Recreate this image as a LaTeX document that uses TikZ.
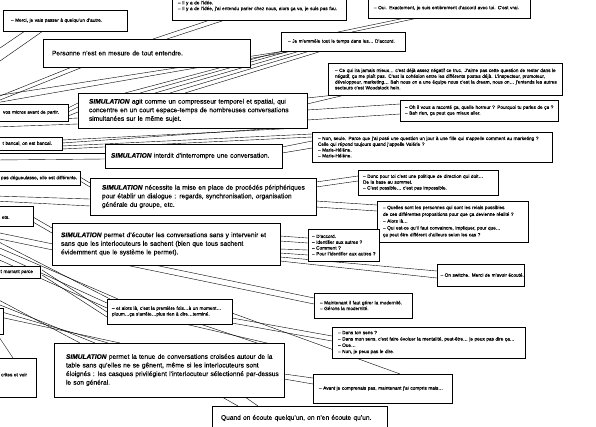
\documentclass[tikz,border=0pt]{standalone}
\usepackage{fontspec}
\setmainfont{Liberation Sans}[FakeBold=0.2]
\usetikzlibrary{calc,shadows}
\pgfdeclarelayer{bg}
\pgfsetlayers{bg,main}
\newcommand\smallfnt{\fontsize{4.7}{5.8}\selectfont}
\newcommand\largefnt{\fontsize{6.6}{8.6}\selectfont}
\newcommand\SIM{\textbf{\textit{SIMULATION}}}
\newcommand\jl[1]{\makebox[\hsize][s]{#1}\\}
\begin{document}
\begin{tikzpicture}[x=1pt,y=-1pt,
  box/.style={draw=black, line width=0.45pt, fill=white,
    general shadow={fill=black!45, shadow xshift=1.2pt, shadow yshift=-1.2pt},
    anchor=north west, inner ysep=0pt, outer sep=0pt},
  sbox/.style={box, font=\smallfnt, align=left},
  rbox/.style={box, font=\smallfnt, align=right},
  lbox/.style={box, font=\largefnt, align=left},
  wire/.style={line width=0.4pt, black}]
\useasboundingbox (0,0) rectangle (596,426);
\begin{pgfonlayer}{bg}
\fill[white] (0,0) rectangle (596,426);
\end{pgfonlayer}

% ---------- boxes ----------
\node[sbox, text width=162pt, inner xsep=6pt, minimum height=28pt] (A) at (172,-8)
  {\mbox{– Il y a de l'idée.}\\\mbox{– Il y a de l'idée, j'ai entendu parler chez nous, alors ça va, je suis pas fou.}};
\node[sbox, text width=150pt, inner xsep=6pt, minimum height=20pt] (B) at (368,-2)
  {\mbox{– Oui. Exactement, je suis entièrement d'accord avec toi. C'est vrai.}};
\node[sbox, text width=108pt, inner xsep=8pt, minimum height=21pt] (C) at (3,10)
  {\mbox{– Merci, je vais passer à quelqu'un d'autre.}};
\node[lbox, text width=189pt, inner xsep=9pt, minimum height=28pt] (D) at (43,39)
  {\mbox{Personne n'est en mesure de tout entendre.}};
\node[sbox, text width=110pt, inner xsep=7pt, minimum height=19pt] (E) at (281,32)
  {\mbox{– Je m'emmêle tout le temps dans les… D'accord.}};
\node[sbox, text width=220pt, inner xsep=7pt, minimum height=32pt] (F) at (328,63)
  {\jl{– Ce qui ira jamais mieux… c'est déjà assez négatif ce truc. J'aime pas cette question de rester dans le}
   \jl{négatif, ça me plaît pas. C'est la cohésion entre les différents postes déjà. L'inspecteur, promoteur,}
   \jl{développeur, marketing… Bah nous on a une équipe nous c'est la dream, nous on… j'entends les autres}
   \mbox{secteurs c'est Woodstock hein.}};
\node[sbox, text width=148pt, inner xsep=5pt, minimum height=21pt] (G) at (400,100)
  {\mbox{– Oh il vous a raconté ça, quelle horreur ? Pourquoi tu parles de ça ?}\\\mbox{– Bah rien, ça peut que mieux aller.}};
\node[rbox, text width=70pt, inner xsep=9pt, minimum height=17pt] (H) at (-20,104)
  {\mbox{vos micros avant de partir.}};
\node[lbox, text width=207pt, inner xsep=11pt, minimum height=35pt] (I) at (78,93)
  {\jl{\SIM{} agit comme un compresseur temporel et spatial, qui}
   \jl{concentre en un court espace-temps de nombreuses conversations}
   \mbox{simultanées sur le même sujet.}};
\node[rbox, text width=62pt, inner xsep=10pt, minimum height=13pt] (J) at (-20,137)
  {\mbox{t bancal, on est bancal.}};
\node[lbox, text width=165pt, inner xsep=6pt, minimum height=24pt] (K) at (105,144)
  {\mbox{\SIM{} interdit d'interrompre une conversation.}};
\node[sbox, text width=228pt, inner xsep=6pt, minimum height=30pt] (L) at (312,132)
  {\mbox{– Non, seule. Parce que j'ai posé une question un jour à une fille qui s'appelle comment au marketing ?}\\
   \mbox{Celle qui répond toujours quand j'appelle Valérie ?}\\\mbox{– Marie-Hélène.}\\\mbox{– Marie-Hélène.}};
\node[sbox, text width=76pt, inner xsep=3pt, minimum height=14pt] (M) at (-2,171)
  {\mbox{pas dégueulasse, elle est différente.}};
\node[lbox, text width=202pt, inner xsep=12pt, minimum height=37pt] (N) at (90,178)
  {\jl{\SIM{} nécessite la mise en place de procédés périphériques}
   \jl{pour établir un dialogue : regards, synchronisation, organisation}
   \mbox{générale du groupe, etc.}};
\node[sbox, text width=130pt, inner xsep=5pt, minimum height=25pt] (O) at (358,170)
  {\mbox{– Donc pour toi c'est une politique de direction qui doit…}\\\mbox{De la base au sommet.}\\\mbox{– C'est possible… c'est pas impossible.}};
\node[sbox, font=\fontsize{4.7}{6.8}\selectfont, text width=139pt, inner xsep=6pt, minimum height=41pt] (P) at (377,201)
  {\mbox{– Quelles sont les personnes qui sont les relais possibles}\\\mbox{de ces différentes propositions pour que ça devienne réalité ?}\\
   \mbox{– Alors là…}\\\mbox{– Qui est-ce qu'il faut convaincre, impliquer, pour que…}\\\mbox{ça peut être différent d'ailleurs selon les cas ?}};
\node[sbox, text width=9pt, inner xsep=22pt, minimum height=20pt] (Q) at (-20,206)
  {\mbox{}\\\mbox{ets.}};
\node[lbox, text width=210pt, inner xsep=9pt, minimum height=42pt] (R) at (52,223)
  {\jl{\SIM{} permet d'écouter les conversations sans y intervenir et}
   \jl{sans que les interlocuteurs le sachent (bien que tous sachent}
   \mbox{évidemment que le système le permet).}};
\node[sbox, text width=63pt, inner xsep=4pt, minimum height=32pt] (S) at (308,229)
  {\mbox{– D'accord.}\\\mbox{– Identifier aux autres ?}\\\mbox{– Comment ?}\\\mbox{– Pour l'identifier aux autres ?}};
\node[rbox, text width=46pt, inner xsep=7pt, minimum height=12pt] (T) at (-20,266)
  {\mbox{t marrant parce}};
\node[sbox, text width=80pt, inner xsep=3.5pt, minimum height=22pt] (U) at (437,264)
  {\mbox{– On switche. Merci de m'avoir écouté.}};
\node[sbox, text width=115pt, inner xsep=5pt, minimum height=25pt] (V) at (107,299)
  {\mbox{– et alors là, c'est la première fois…à un moment…}\\\mbox{ploum…ça s'arrête…plus rien à dire…terminé.}};
\node[sbox, text width=86pt, inner xsep=6pt, minimum height=25pt] (W) at (314,293)
  {\mbox{– Maintenant il faut gérer la modernité.}\\\mbox{– Gérons la modernité.}};
\node[box, minimum width=43pt, minimum height=26pt] (Xa) at (-40,308) {};
\node[rbox, text width=38pt, inner xsep=9pt, minimum height=39pt] (X) at (-20,358)
  {\mbox{crites et voir}\\\mbox{}};
\node[lbox, text width=206pt, inner xsep=12pt, minimum height=54pt] (Y) at (54,343)
  {\jl{\SIM{} permet la tenue de conversations croisées autour de la}
   \jl{table sans qu'elles ne se gênent, même si les interlocuteurs sont}
   \jl{éloignés : les casques privilégient l'interlocuteur sélectionné par-dessus}
   \mbox{le son général.}};
\node[sbox, font=\fontsize{4.7}{6.3}\selectfont, text width=181pt, inner xsep=6pt, minimum height=31pt] (Z) at (332,327)
  {\mbox{– Dans ton sens ?}\\\mbox{– Dans mon sens, c'est faire évoluer la mentalité, peut-être… je peux pas dire ça…}\\\mbox{– Oue…}\\\mbox{– Non, je peux pas le dire.}};
\node[sbox, text width=127pt, inner xsep=6pt, minimum height=29pt] (AA) at (313,374)
  {\mbox{– Avant je comprenais pas, maintenant j'ai compris mais…}};
\node[lbox, text width=157pt, inner xsep=9pt, minimum height=24pt] (BB) at (212,406)
  {\mbox{Quand on écoute quelqu'un, on n'en écoute qu'un.}};

% ---------- free ends beyond the left edge ----------
\coordinate (l1) at (-5,51.4);
\coordinate (l2) at (-5,64.5);
\coordinate (l3) at (-5,98);
\coordinate (l4) at (-5,102);
\coordinate (l5) at (-5,122);
\coordinate (l6) at (-5,127);
\coordinate (l7) at (-5,196);
\coordinate (l8) at (-5,201);
\coordinate (l9) at (-5,232);
\coordinate (l10) at (-5,238);
\coordinate (l11) at (-5,240);
\coordinate (l12) at (-5,246);
\coordinate (l13) at (-5,252);
\coordinate (l14) at (-5,258);
\coordinate (l15) at (-5,298);
\coordinate (l16) at (-5,303);
\coordinate (l17) at (-5,310);
\coordinate (l18) at (-5,316);
\coordinate (l19) at (-5,331);
\coordinate (l20) at (-5,153);
\coordinate (l21) at (-5,160);
\coordinate (l22) at (-5,96);
\coordinate (l23) at (-5,103);

% ---------- connectors ----------
\begin{pgfonlayer}{bg}
\draw[wire] ($(C.north west)+(22,21)$) -- (l1);
\draw[wire] ($(C.north west)+(40,21)$) -- (l2);
\draw[wire] ($(A.north west)+(38,28)$) -- ($(D.north west)+(110,0)$);
\draw[wire] ($(A.north west)+(53,28)$) -- ($(D.north west)+(124,0)$);
\draw[wire] ($(B.north west)+(37,20)$) -- ($(E.north west)+(57,0)$);
\draw[wire] ($(B.north west)+(50,20)$) -- ($(E.north west)+(71,0)$);
\draw[wire] ($(D.north west)+(29,28)$) -- (l3);
\draw[wire] ($(D.north west)+(40,28)$) -- (l4);
\draw[wire] ($(E.north west)+(4,19)$) -- (l22);
\draw[wire] ($(E.north west)+(12,19)$) -- (l23);
\draw[wire] ($(I.north west)+(47,0)$) -- ($(E.north west)+(2,19)$);
\draw[wire] ($(I.north west)+(62,0)$) -- ($(E.north west)+(9,19)$);
\draw[wire] ($(I.north west)+(77,0)$) -- ($(E.north west)+(19,19)$);
\draw[wire] ($(I.north west)+(92,0)$) -- ($(E.north west)+(29,19)$);
\draw[wire] ($(I.north west)+(107,0)$) -- ($(E.north west)+(41,19)$);
\draw[wire] ($(I.north west)+(229,5)$) -- ($(F.north west)+(7,32)$);
\draw[wire] ($(I.north west)+(229,11)$) -- ($(F.north west)+(17,32)$);
\draw[wire] ($(I.north west)+(229,17)$) -- ($(G.north west)+(0,4)$);
\draw[wire] ($(I.north west)+(229,27)$) -- ($(G.north west)+(0,14)$);
\draw[wire] ($(J.north west)+(82,3)$) -- ($(I.north west)+(222,35)$);
\draw[wire] ($(J.north west)+(82,6)$) -- ($(I.north west)+(229,33)$);
\draw[wire] ($(J.north west)+(82,9)$) -- ($(L.north west)+(0,2)$);
\draw[wire] ($(J.north west)+(82,12)$) -- ($(L.north west)+(0,5)$);
\draw[wire] ($(K.north west)+(177,3)$) -- ($(L.north west)+(0,9)$);
\draw[wire] ($(K.north west)+(177,9)$) -- ($(L.north west)+(0,16)$);
\draw[wire] ($(H.north west)+(88,4)$) -- ($(I.north west)+(0,10)$);
\draw[wire] ($(H.north west)+(88,8)$) -- ($(I.north west)+(0,14)$);
\draw[wire] ($(H.north west)+(88,12)$) -- ($(I.north west)+(0,19)$);
\draw[wire] (l5) -- ($(I.north west)+(0,25)$);
\draw[wire] (l6) -- ($(I.north west)+(0,31)$);
\draw[wire] (l20) -- ($(K.north west)+(0,9)$);
\draw[wire] (l21) -- ($(K.north west)+(0,15)$);
\draw[wire] ($(M.north west)+(82,6)$) -- ($(N.north west)+(0,5)$);
\draw[wire] ($(M.north west)+(82,10)$) -- ($(N.north west)+(0,9)$);
\draw[wire] (l7) -- ($(N.north west)+(0,21)$);
\draw[wire] (l8) -- ($(N.north west)+(0,28)$);
\draw[wire] ($(N.north west)+(226,4)$) -- ($(O.north west)+(0,6)$);
\draw[wire] ($(N.north west)+(226,9)$) -- ($(O.north west)+(0,11)$);
\draw[wire] ($(N.north west)+(226,23)$) -- ($(P.north west)+(0,4)$);
\draw[wire] ($(N.north west)+(226,29)$) -- ($(P.north west)+(0,10)$);
\draw[wire] ($(Q.north west)+(53,11)$) -- ($(R.north west)+(0,5)$);
\draw[wire] ($(Q.north west)+(53,16)$) -- ($(R.north west)+(0,10)$);
\draw[wire] ($(R.north west)+(228,13)$) -- ($(S.north west)+(0,9)$);
\draw[wire] ($(R.north west)+(228,18)$) -- ($(S.north west)+(0,14)$);
\draw[wire] ($(R.north west)+(228,26)$) -- ($(S.north west)+(0,21)$);
\draw[wire] ($(R.north west)+(228,30)$) -- ($(S.north west)+(0,26)$);
\draw[wire] ($(R.north west)+(228,34)$) -- ($(U.north west)+(0,7)$);
\draw[wire] ($(R.north west)+(228,38)$) -- ($(U.north west)+(0,14)$);
\draw[wire] (l9) -- ($(W.north west)+(0,5)$);
\draw[wire] (l10) -- ($(W.north west)+(0,11)$);
\draw[wire] (l11) -- ($(V.north west)+(3,0)$);
\draw[wire] (l12) -- ($(V.north west)+(11,0)$);
\draw[wire] (l13) -- ($(V.north west)+(0,4)$);
\draw[wire] (l14) -- ($(V.north west)+(0,9)$);
\draw[wire] ($(T.north west)+(62,4)$) -- ($(V.north west)+(0,13)$);
\draw[wire] ($(T.north west)+(62,9)$) -- ($(V.north west)+(0,18)$);
\draw[wire] (l15) -- ($(Y.north west)+(26,0)$);
\draw[wire] (l16) -- ($(Y.north west)+(41,0)$);
\draw[wire] (l17) -- ($(Y.north west)+(54,0)$);
\draw[wire] (l18) -- ($(Y.north west)+(66,0)$);
\draw[wire] (l19) -- ($(X.north west)+(33,0)$);
\draw[wire] ($(V.north west)+(125,19)$) -- ($(Z.north west)+(0,9)$);
\draw[wire] ($(V.north west)+(125,24)$) -- ($(Z.north west)+(0,14)$);
\draw[wire] ($(V.north west)+(78,25)$) -- ($(Y.north west)+(230,4)$);
\draw[wire] ($(V.north west)+(93,25)$) -- ($(Y.north west)+(230,9)$);
\draw[wire] ($(V.north west)+(125,14)$) -- ($(AA.north west)+(87,0)$);
\draw[wire] ($(Y.north west)+(230,31)$) -- ($(AA.north west)+(0,4)$);
\draw[wire] ($(Y.north west)+(230,36)$) -- ($(AA.north west)+(0,10)$);
\draw[wire] ($(Y.north west)+(168,54)$) -- ($(BB.north west)+(26,0)$);
\draw[wire] ($(Y.north west)+(191,54)$) -- ($(BB.north west)+(46,0)$);
\end{pgfonlayer}
\end{tikzpicture}
\end{document}
